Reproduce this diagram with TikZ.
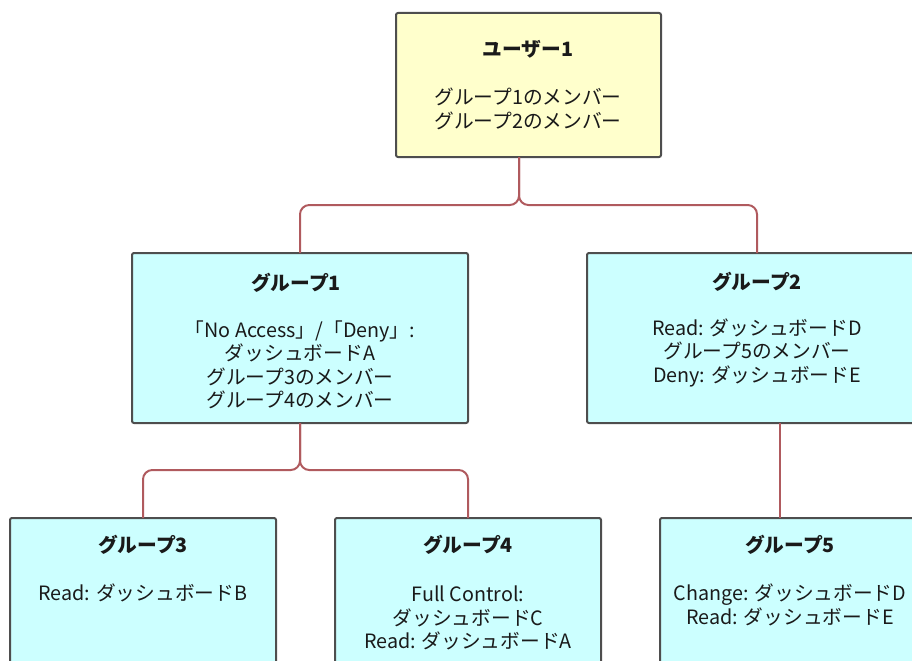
\documentclass[tikz,border=0pt]{standalone}
\usepackage{fontspec}
\setmainfont{Noto Sans CJK JP}
\usetikzlibrary{calc}
\definecolor{wirecol}{HTML}{B05A5E}
\definecolor{boxline}{HTML}{4E4E4E}
\definecolor{yel}{HTML}{FFFFCC}
\definecolor{cya}{HTML}{CCFFFF}
\definecolor{txt}{HTML}{1A1A1A}
\begin{document}
\begin{tikzpicture}[x=0.75pt,y=-0.75pt,
  boxbase/.style={draw=boxline, line width=1.5pt, rounded corners=1.5pt, inner sep=0pt, outer sep=0pt},
  ubox/.style={boxbase, fill=yel},
  gbox/.style={boxbase, fill=cya},
  wire/.style={draw=wirecol, line width=1.5pt, rounded corners=7pt},
  ttl/.style={font=\fontsize{14.8pt}{17.6pt}\selectfont\bfseries, text=txt, inner sep=0pt},
  bdy/.style={font=\fontsize{14.8pt}{17.6pt}\selectfont, text=txt, align=center, inner sep=0pt}]
\useasboundingbox (0,0) rectangle (912,660);
% boxes
\node[ubox, minimum width=198.75pt, minimum height=108pt] (u) at (528.5,85) {};
\node[gbox, minimum width=252pt, minimum height=127.5pt] (g1) at (300,338) {};
\node[gbox, minimum width=255pt, minimum height=127.5pt] (g2) at (757,338) {};
\node[gbox, minimum width=199.5pt, minimum height=136.5pt] (g3) at (143,609) {};
\node[gbox, minimum width=199.5pt, minimum height=136.5pt] (g4) at (468,609) {};
\node[gbox, minimum width=195pt, minimum height=136.5pt] (g5) at (790,609) {};
% connectors
\draw[wire] ([xshift=-7.1pt]u.south) -- ++(0,48) -| (g1.north);
\draw[wire] ([xshift=-7.1pt]u.south) -- ++(0,48) -| (g2.north);
\draw[wire] (g1.south) -- ++(0,47) -| (g3.north);
\draw[wire] (g1.south) -- ++(0,47) -| (g4.north);
\draw[wire] ([xshift=-7.5pt]g5.north) -- ++(0,-95);
% texts
\node[ttl] (ut) at (528,49) {ユーザー1};
\node[bdy] (ub) at (528,109) {グループ1のメンバー\\グループ2のメンバー};
\node[ttl] (g1t) at (296,283) {グループ1};
\node[bdy] (g1b) at (300,365) {「No Access」/「Deny」:\\ダッシュボードA\\グループ3のメンバー\\グループ4のメンバー};
\node[ttl] (g2t) at (757,282) {グループ2};
\node[bdy] (g2b) at (757,352.5) {Read: ダッシュボードD\\グループ5のメンバー\\Deny: ダッシュボードE};
\node[ttl] (g3t) at (143,545) {グループ3};
\node[bdy] (g3b) at (143,593) {Read: ダッシュボードB};
\node[ttl] (g4t) at (468,545) {グループ4};
\node[bdy] (g4b) at (468,618) {Full Control:\\ダッシュボードC\\Read: ダッシュボードA};
\node[ttl] (g5t) at (790,545) {グループ5};
\node[bdy] (g5b) at (790,605) {Change: ダッシュボードD\\Read: ダッシュボードE};
\end{tikzpicture}
\end{document}
